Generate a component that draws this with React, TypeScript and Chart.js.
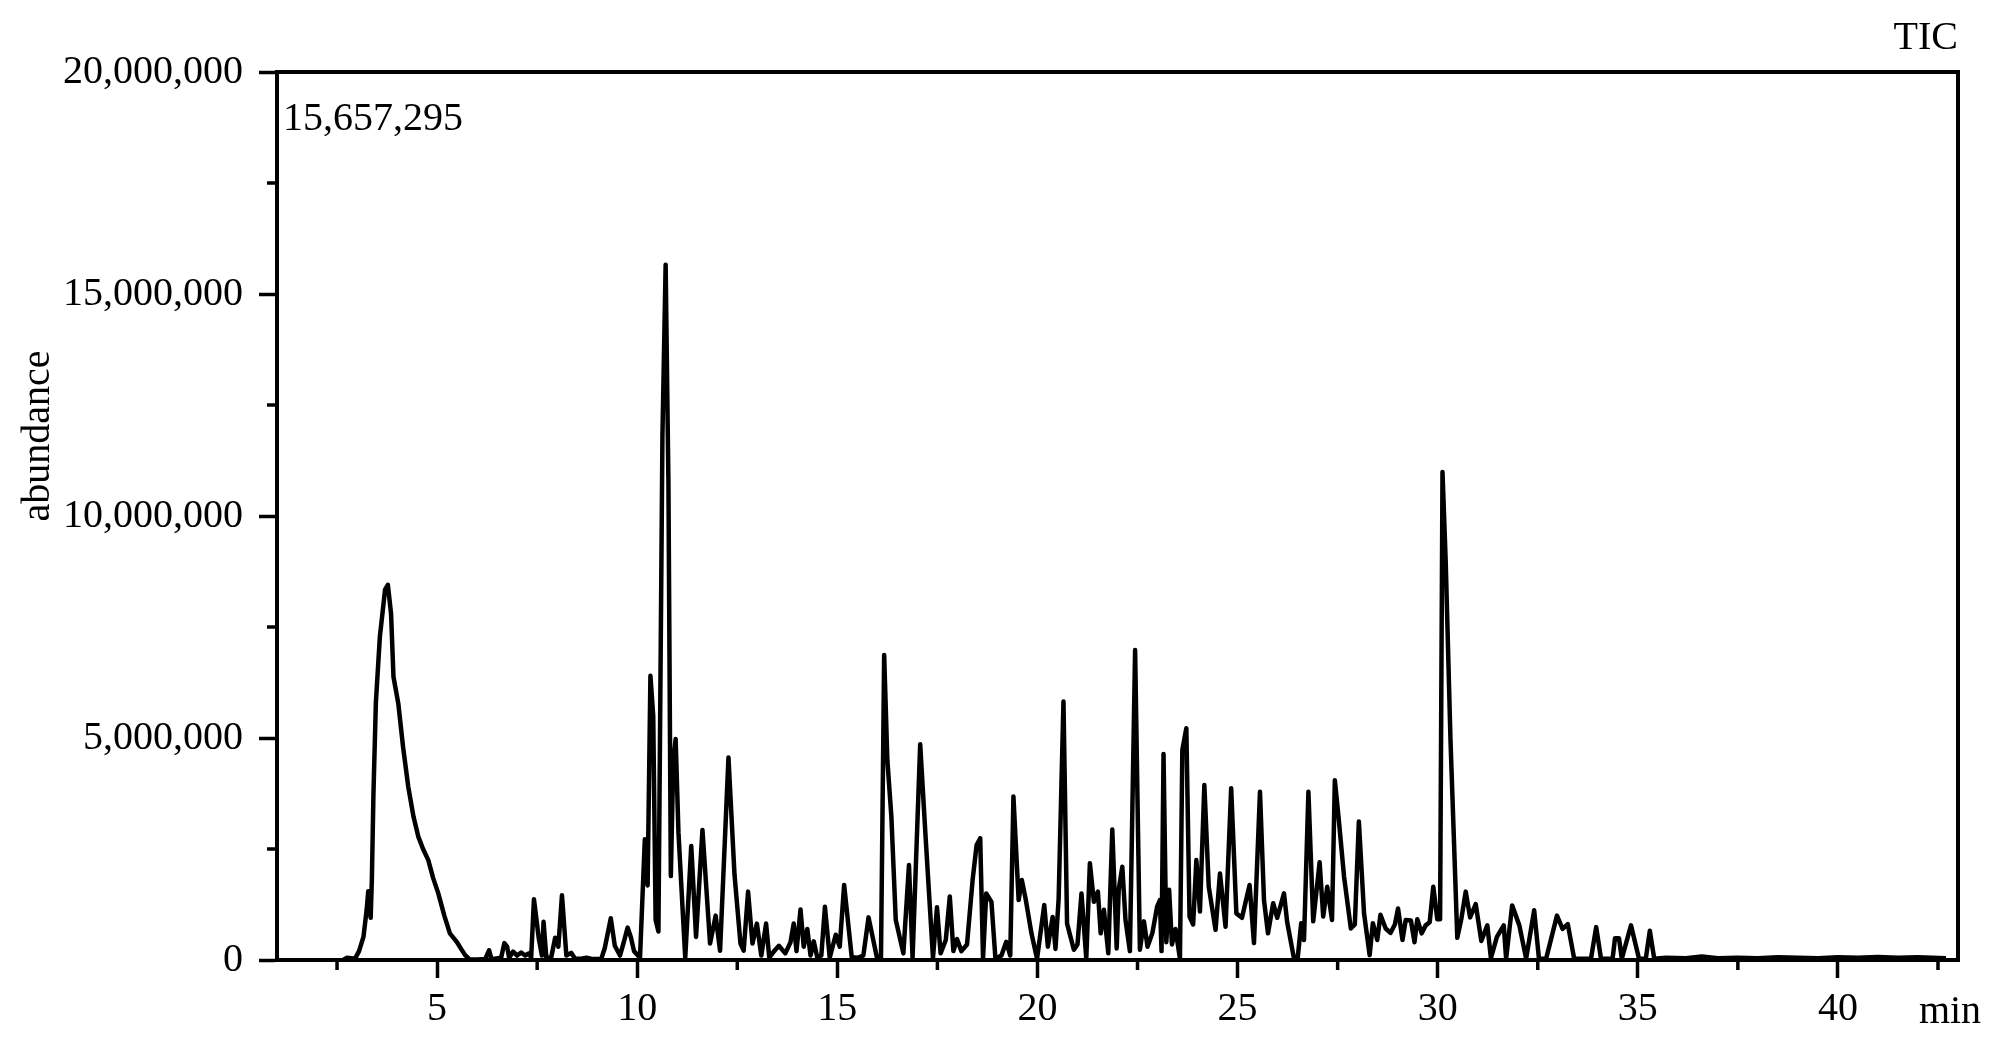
import React, { useEffect, useRef } from 'react';
import { Chart, registerables } from 'chart.js';

Chart.register(...registerables);

// Retention time (min)
const retentionTime = [
  2.65, 2.75, 2.85, 2.95, 3.05, 3.16, 3.24, 3.28, 3.31, 3.34, 3.37, 3.41, 3.47, 3.57, 3.70, 3.77, 3.85, 3.91,
  4.03, 4.15, 4.28, 4.41, 4.53, 4.65, 4.78, 4.9, 5.03, 5.18, 5.32, 5.49, 5.6, 5.7, 5.82, 6.0, 6.2, 6.3, 6.36,
  6.6, 6.68, 6.75, 6.8, 6.9, 7.0, 7.1, 7.2, 7.3, 7.35, 7.42, 7.54, 7.62, 7.66, 7.73, 7.85, 7.95, 8.03, 8.12,
  8.23, 8.35, 8.45, 8.6, 8.73, 8.9, 9.1, 9.19, 9.34, 9.44, 9.57, 9.67, 9.76, 9.84, 9.92, 10.07, 10.19, 10.26,
  10.33, 10.40, 10.46, 10.53, 10.63, 10.71, 10.78, 10.84, 10.90, 10.96, 11.03, 11.2, 11.35, 11.47, 11.63,
  11.82, 11.96, 12.07, 12.28, 12.43, 12.58, 12.66, 12.77, 12.88, 12.99, 13.10, 13.22, 13.30, 13.42, 13.54,
  13.70, 13.83, 13.91, 13.98, 14.08, 14.16, 14.25, 14.33, 14.41, 14.5, 14.6, 14.69, 14.81, 14.96, 15.06,
  15.17, 15.36, 15.5, 15.65, 15.78, 15.99, 16.09, 16.17, 16.25, 16.35, 16.46, 16.65, 16.79, 16.88, 17.07,
  17.2, 17.39, 17.49, 17.58, 17.71, 17.81, 17.9, 17.99, 18.1, 18.24, 18.38, 18.48, 18.57, 18.64, 18.72,
  18.85, 18.95, 19.1, 19.22, 19.32, 19.4, 19.53, 19.61, 19.71, 19.85, 19.99, 20.17, 20.26, 20.38, 20.45,
  20.53, 20.65, 20.74, 20.91, 21.0, 21.1, 21.22, 21.31, 21.41, 21.51, 21.58, 21.66, 21.77, 21.87, 21.98,
  22.03, 22.12, 22.2, 22.31, 22.44, 22.56, 22.66, 22.75, 22.87, 22.99, 23.06, 23.1, 23.15, 23.22, 23.29,
  23.36, 23.45, 23.56, 23.62, 23.72, 23.80, 23.89, 23.97, 24.06, 24.17, 24.28, 24.45, 24.56, 24.7, 24.84,
  24.97, 25.11, 25.3, 25.41, 25.56, 25.66, 25.76, 25.89, 25.99, 26.16, 26.24, 26.41, 26.5, 26.59, 26.66,
  26.77, 26.89, 27.05, 27.14, 27.24, 27.36, 27.43, 27.53, 27.66, 27.83, 27.93, 28.03, 28.16, 28.3, 28.38,
  28.49, 28.57, 28.7, 28.82, 28.93, 29.01, 29.12, 29.2, 29.33, 29.42, 29.49, 29.6, 29.7, 29.8, 29.89, 29.99,
  30.06, 30.12, 30.2, 30.32, 30.49, 30.59, 30.7, 30.81, 30.95, 31.09, 31.24, 31.33, 31.48, 31.65, 31.71,
  31.86, 32.04, 32.21, 32.41, 32.53, 32.71, 32.98, 33.12, 33.25, 33.41, 33.83, 33.96, 34.08, 34.37, 34.43,
  34.53, 34.6, 34.83, 35.03, 35.2, 35.3, 35.41, 35.7, 36.2, 36.6, 37.0, 37.5, 38.0, 38.5, 39.0, 39.5, 40.0,
  40.5, 41.0, 41.5, 42.0, 42.7,
];

// Abundance (millions of counts)
const abundanceMillions = [
  0, 0.05, 0.04, 0.03, 0.2, 0.52, 1.13, 1.55, 1.2, 0.95, 1.8, 3.75, 5.79, 7.28, 8.34, 8.45, 7.8, 6.38,
  5.78, 4.8, 3.9, 3.23, 2.78, 2.5, 2.25, 1.85, 1.5, 1.0, 0.6, 0.41, 0.25, 0.11, 0.01, 0.01, 0.02, 0.22, 0.02,
  0.05, 0.38, 0.3, 0.05, 0.19, 0.1, 0.17, 0.1, 0.15, 0.05, 1.37, 0.49, 0.1, 0.86, 0.05, 0.05, 0.5, 0.3, 1.46,
  0.1, 0.16, 0.03, 0.03, 0.05, 0.02, 0.02, 0.27, 0.94, 0.32, 0.1, 0.42, 0.73, 0.52, 0.2, 0.05, 2.72, 1.68,
  6.4, 5.5, 0.9, 0.64, 11.8, 15.66, 10.75, 1.89, 4.46, 4.98, 2.88, 0.05, 2.57, 0.52, 2.93,
  0.37, 1.0, 0.21, 4.56, 1.93, 0.37, 0.21, 1.54, 0.37, 0.82, 0.1, 0.82, 0.05, 0.2, 0.32,
  0.15, 0.4, 0.82, 0.2, 1.14, 0.3, 0.7, 0.1, 0.42, 0.05, 0.1, 1.2, 0.05, 0.57, 0.3,
  1.69, 0.06, 0.05, 0.1, 0.96, 0.05, 0.02, 6.87, 4.5, 3.23, 0.9, 0.15, 2.14, 0.05, 4.86,
  2.85, 0.05, 1.19, 0.15, 0.45, 1.43, 0.2, 0.47, 0.2, 0.35, 1.8, 2.59, 2.74, 0.03, 1.5,
  1.31, 0.03, 0.1, 0.41, 0.1, 3.68, 1.35, 1.8, 1.35, 0.6, 0.03, 1.24, 0.3, 0.97, 0.25,
  1.39, 5.82, 0.82, 0.23, 0.35, 1.5, 0.03, 2.18, 1.31, 1.54, 0.6, 1.13, 0.15, 2.94, 0.26,
  1.58, 2.1, 0.9, 0.2, 6.98, 0.23, 0.87, 0.3, 0.6, 1.2, 1.35, 0.2, 4.64, 0.4, 1.58,
  0.35, 0.7, 0.03, 4.73, 5.22, 0.98, 0.8, 2.25, 1.09, 3.94, 1.65, 0.68, 1.95, 0.75, 3.87,
  1.05, 0.95, 1.69, 0.38, 3.79, 1.35, 0.6, 1.28, 0.95, 1.5, 0.85, 0.03, 0.03, 0.83, 0.45,
  3.79, 0.87, 2.2, 0.98, 1.65, 0.9, 4.05, 3.15, 1.88, 0.71, 0.8, 3.12, 1.05, 0.11, 0.83,
  0.45, 1.02, 0.71, 0.61, 0.8, 1.16, 0.45, 0.9, 0.89, 0.4, 0.92, 0.6, 0.78, 0.85, 1.65, 0.92,
  0.92, 10.99, 8.98, 4.95, 0.5, 0.92, 1.54, 0.96, 1.26, 0.43, 0.78, 0.04, 0.52, 0.78, 0.03,
  1.23, 0.78, 0.03, 1.12, 0.03, 0.03, 1.0, 0.7, 0.81, 0.03, 0.03, 0.74, 0.03, 0.03, 0.49,
  0.49, 0.03, 0.78, 0.03, 0.03, 0.66, 0.03, 0.05, 0.04, 0.08, 0.04, 0.05, 0.04, 0.06, 0.05, 0.04, 0.06,
  0.05, 0.07, 0.05, 0.06, 0.04,
];

const xRange = [1, 43];
const yRange = [0, 20000000];
const xMajorTicks = [5, 10, 15, 20, 25, 30, 35, 40];
const xMinorTicks = [2.5, 7.5, 12.5, 17.5, 22.5, 27.5, 32.5, 37.5, 42.5];
const yMajorTicks = [0, 5000000, 10000000, 15000000, 20000000];
const yMinorTicks = [2500000, 7500000, 12500000, 17500000];

const traceLabel = 'TIC';
const maxIntensityLabel = '15,657,295';
const yAxisTitle = 'abundance';
const xAxisUnit = 'min';

const FONT_FAMILY = "'Liberation Serif', 'Times New Roman', serif";
const FONT_SIZE = 40;

const framePlugin = {
  id: 'framePlugin',
  afterDraw(chart: any) {
    const { ctx, chartArea: a, scales } = chart;
    const x = scales.x;
    const y = scales.y;
    ctx.save();
    ctx.strokeStyle = '#000';
    ctx.lineCap = 'butt';
    // top and right border
    ctx.lineWidth = 4;
    ctx.beginPath();
    ctx.moveTo(a.left, a.top);
    ctx.lineTo(a.right, a.top);
    ctx.lineTo(a.right, a.bottom + 2);
    ctx.stroke();
    // minor ticks
    ctx.lineWidth = 3.5;
    ctx.beginPath();
    xMinorTicks.forEach((v) => {
      const px = x.getPixelForValue(v);
      ctx.moveTo(px, a.bottom);
      ctx.lineTo(px, a.bottom + 10);
    });
    yMinorTicks.forEach((v) => {
      const py = y.getPixelForValue(v);
      ctx.moveTo(a.left, py);
      ctx.lineTo(a.left - 10, py);
    });
    ctx.stroke();

    // texts
    ctx.fillStyle = '#000';
    ctx.font = `${FONT_SIZE}px ${FONT_FAMILY}`;
    ctx.textBaseline = 'middle';
    ctx.textAlign = 'right';
    ctx.fillText(traceLabel, a.right, 38);
    ctx.textAlign = 'left';
    ctx.fillText(maxIntensityLabel, a.left + 6, a.top + 47);
    ctx.textAlign = 'center';
    ctx.textBaseline = 'alphabetic';
    ctx.fillText(xAxisUnit, a.right - 8, a.bottom + 63);

    ctx.save();
    ctx.translate(38, a.top + (a.bottom - a.top) * 0.41);
    ctx.rotate(-Math.PI / 2);
    ctx.textAlign = 'center';
    ctx.textBaseline = 'middle';
    ctx.fillText(yAxisTitle, 0, 0);
    ctx.restore();

    ctx.restore();
  },
};

export default function App() {
  const ref = useRef<HTMLCanvasElement>(null);

  useEffect(() => {
    document.body.style.margin = '0';
    const canvas = ref.current;
    if (!canvas) return;
    const points = retentionTime.map((t, i) => ({ x: t, y: abundanceMillions[i] * 1000000 }));
    const tickFont = { family: FONT_FAMILY, size: FONT_SIZE };
    const chart = new Chart(canvas, {
      type: 'line',
      data: {
        datasets: [
          {
            data: points,
            borderColor: '#000',
            borderWidth: 4.5,
            pointRadius: 0,
            tension: 0,
            fill: false,
            borderJoinStyle: 'round',
          } as any,
        ],
      },
      options: {
        animation: false,
        responsive: false,
        devicePixelRatio: 1,
        parsing: false as any,
        layout: { padding: { top: 72, right: 44, left: 0, bottom: 0 } },
        plugins: {
          legend: { display: false },
          tooltip: { enabled: false },
          title: { display: false },
        },
        scales: {
          x: {
            type: 'linear',
            position: 'bottom',
            min: xRange[0],
            max: xRange[1],
            afterBuildTicks: (s: any) => {
              s.ticks = xMajorTicks.map((v) => ({ value: v }));
            },
            afterFit: (s: any) => {
              s.height = 96;
            },
            grid: {
              display: true,
              drawOnChartArea: false,
              drawTicks: true,
              tickLength: 18,
              tickWidth: 3.5,
              tickColor: '#000',
            },
            border: { display: true, color: '#000', width: 4 },
            ticks: {
              font: tickFont,
              color: '#000',
              padding: 7,
              maxRotation: 0,
              autoSkip: false,
              callback: (v: any) => String(v),
            },
          },
          y: {
            type: 'linear',
            min: yRange[0],
            max: yRange[1],
            afterBuildTicks: (s: any) => {
              s.ticks = yMajorTicks.map((v) => ({ value: v }));
            },
            afterFit: (s: any) => {
              s.width = 277;
            },
            grid: {
              display: true,
              drawOnChartArea: false,
              drawTicks: true,
              tickLength: 18,
              tickWidth: 3.5,
              tickColor: '#000',
            },
            border: { display: true, color: '#000', width: 4 },
            ticks: {
              font: tickFont,
              color: '#000',
              padding: 16,
              autoSkip: false,
              callback: (v: any) => Number(v).toLocaleString('en-US'),
            },
          },
        },
      },
      plugins: [framePlugin],
    });
    return () => chart.destroy();
  }, []);

  return (
    <canvas
      ref={ref}
      width={2002}
      height={1056}
      style={{ display: 'block', width: '2002px', height: '1056px' }}
    />
  );
}
